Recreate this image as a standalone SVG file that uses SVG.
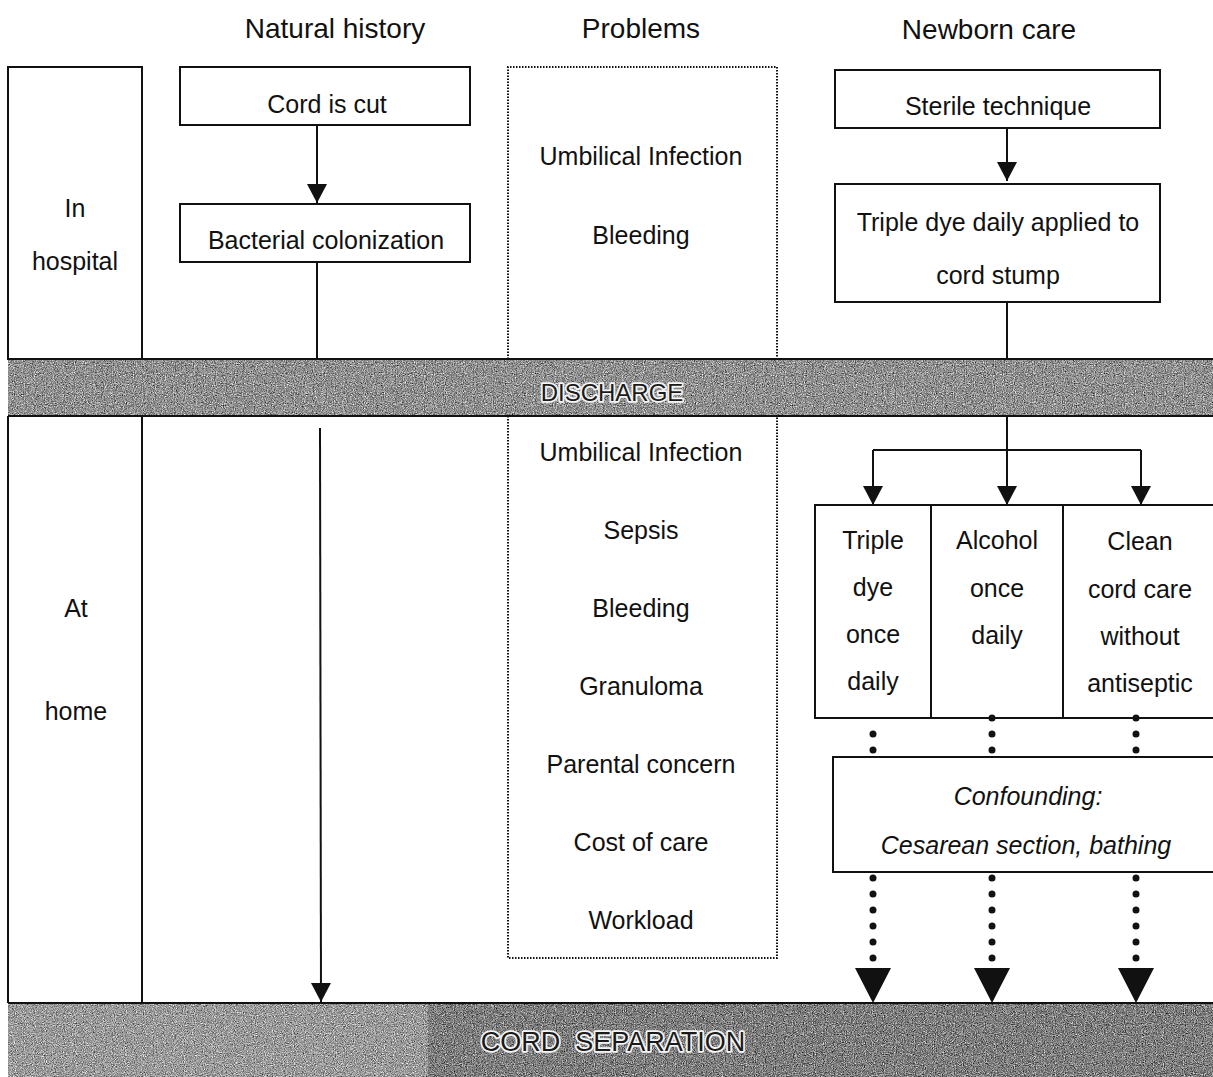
<svg xmlns="http://www.w3.org/2000/svg" width="1213" height="1077" viewBox="0 0 1213 1077">
<defs>
<style>
text{font-family:"Liberation Sans",Arial,sans-serif;fill:#111;text-anchor:middle}
.h{font-size:28px}
.t{font-size:25px}
.i{font-style:italic}
.box{fill:#fff;stroke:#111;stroke-width:2}
.ln{fill:none;stroke:#111;stroke-width:2}
.dot{fill:none;stroke:#111;stroke-width:2;stroke-dasharray:1.5 1.5}
.dots{fill:none;stroke:#111;stroke-width:7;stroke-linecap:round;stroke-dasharray:0 16}
.bt{fill:#1a1a1a;stroke:#f4f4f4;stroke-width:3.5;paint-order:stroke;stroke-linejoin:round;white-space:pre}
</style>
<marker id="ah" viewBox="0 0 19 20" refX="19" refY="10" markerWidth="19" markerHeight="20" markerUnits="userSpaceOnUse" orient="auto">
<path d="M0,0 L19,10 L0,20 z" fill="#111"/>
</marker>
<filter id="noiseA" x="0" y="0" width="100%" height="100%" color-interpolation-filters="sRGB">
<feTurbulence type="fractalNoise" baseFrequency="0.9" numOctaves="2" seed="3"/>
<feColorMatrix type="matrix" values="0.6 0.6 0.6 0 -0.34  0.6 0.6 0.6 0 -0.34  0.6 0.6 0.6 0 -0.34  0 0 0 0 1"/>
<feComposite in2="SourceAlpha" operator="in"/>
</filter>
<filter id="noiseB" x="0" y="0" width="100%" height="100%" color-interpolation-filters="sRGB">
<feTurbulence type="fractalNoise" baseFrequency="0.9" numOctaves="2" seed="7"/>
<feColorMatrix type="matrix" values="0.6 0.6 0.6 0 -0.3  0.6 0.6 0.6 0 -0.3  0.6 0.6 0.6 0 -0.3  0 0 0 0 1"/>
<feComposite in2="SourceAlpha" operator="in"/>
</filter>
<filter id="noiseC" x="0" y="0" width="100%" height="100%" color-interpolation-filters="sRGB">
<feTurbulence type="fractalNoise" baseFrequency="0.9" numOctaves="2" seed="11"/>
<feColorMatrix type="matrix" values="0.6 0.6 0.6 0 -0.41  0.6 0.6 0.6 0 -0.41  0.6 0.6 0.6 0 -0.41  0 0 0 0 1"/>
<feComposite in2="SourceAlpha" operator="in"/>
</filter>
</defs>

<g id="headers">
<text class="h" x="335" y="38">Natural history</text>
<text class="h" x="641" y="38">Problems</text>
<text class="h" x="989" y="39">Newborn care</text>
</g>

<g id="bands">
<g id="discharge">
<rect x="8" y="359" width="1210" height="57" fill="#8e8e8e" filter="url(#noiseA)"/>
<line class="ln" x1="8" y1="359" x2="1213" y2="359"/>
<line class="ln" x1="8" y1="416" x2="1213" y2="416"/>
<text class="bt" x="612" y="401" style="font-size:24px">DISCHARGE</text>
</g>
<g id="cord-separation">
<rect x="8" y="1003" width="420" height="74" fill="#9a9a9a" filter="url(#noiseB)"/>
<rect x="428" y="1003" width="790" height="74" fill="#7c7c7c" filter="url(#noiseC)"/>
<line class="ln" x1="8" y1="1003" x2="1213" y2="1003"/>
<text class="bt" x="613" y="1051" style="font-size:27px">CORD  SEPARATION</text>
</g>
</g>

<g id="setting-hospital">
<rect class="box" x="8" y="67" width="134" height="292"/>
<text class="t" x="75" y="217">In</text>
<text class="t" x="75" y="270">hospital</text>
</g>
<g id="setting-home">
<path class="ln" d="M8,416 V1003 M142,416 V1003"/>
<text class="t" x="76" y="617">At</text>
<text class="t" x="76" y="720">home</text>
</g>

<g id="cord-cut">
<rect class="box" x="180" y="67" width="290" height="58"/>
<text class="t" x="327" y="113">Cord is cut</text>
</g>
<g id="bacterial">
<rect class="box" x="180" y="204" width="290" height="58"/>
<text class="t" x="326" y="249">Bacterial colonization</text>
</g>

<g id="problems-hospital">
<path class="dot" d="M508,359 V67 H777 V359"/>
<text class="t" x="641" y="165">Umbilical Infection</text>
<text class="t" x="641" y="244">Bleeding</text>
</g>
<g id="problems-home">
<path class="dot" d="M508,416 V958 H777 V416"/>
<text class="t" x="641" y="461">Umbilical Infection</text>
<text class="t" x="641" y="539">Sepsis</text>
<text class="t" x="641" y="617">Bleeding</text>
<text class="t" x="641" y="695">Granuloma</text>
<text class="t" x="641" y="773">Parental concern</text>
<text class="t" x="641" y="851">Cost of care</text>
<text class="t" x="641" y="929">Workload</text>
</g>

<g id="sterile">
<rect class="box" x="835" y="70" width="325" height="58"/>
<text class="t" x="998" y="115">Sterile technique</text>
</g>
<g id="triple-dye-hospital">
<rect class="box" x="835" y="184" width="325" height="118"/>
<text class="t" x="998" y="231">Triple dye daily applied to</text>
<text class="t" x="998" y="284">cord stump</text>
</g>

<g id="opt-triple">
<rect class="box" x="815" y="505" width="116" height="213"/>
<text class="t" x="873" y="549">Triple</text>
<text class="t" x="873" y="596">dye</text>
<text class="t" x="873" y="643">once</text>
<text class="t" x="873" y="690">daily</text>
</g>
<g id="opt-alcohol">
<rect class="box" x="931" y="505" width="132" height="213"/>
<text class="t" x="997" y="549">Alcohol</text>
<text class="t" x="997" y="597">once</text>
<text class="t" x="997" y="644">daily</text>
</g>
<g id="opt-clean">
<rect class="box" x="1063" y="505" width="160" height="213"/>
<text class="t" x="1140" y="550">Clean</text>
<text class="t" x="1140" y="598">cord care</text>
<text class="t" x="1140" y="645">without</text>
<text class="t" x="1140" y="692">antiseptic</text>
</g>

<g id="confounding">
<rect class="box" x="833" y="757" width="390" height="115"/>
<text class="t i" x="1028" y="805">Confounding:</text>
<text class="t i" x="1026" y="854">Cesarean section, bathing</text>
</g>

<g id="connectors">
<line class="ln" x1="317" y1="125" x2="317" y2="203" marker-end="url(#ah)"/>
<line class="ln" x1="317" y1="262" x2="317" y2="359"/>
<line class="ln" x1="320" y1="428" x2="321" y2="1002" marker-end="url(#ah)"/>
<line class="ln" x1="1007" y1="128" x2="1007" y2="181" marker-end="url(#ah)"/>
<line class="ln" x1="1007" y1="302" x2="1007" y2="359"/>
<line class="ln" x1="1007" y1="416" x2="1007" y2="505" marker-end="url(#ah)"/>
<path class="ln" d="M873,450 H1141"/>
<line class="ln" x1="873" y1="450" x2="873" y2="505" marker-end="url(#ah)"/>
<line class="ln" x1="1141" y1="450" x2="1141" y2="505" marker-end="url(#ah)"/>
<path class="dots" d="M873,734 V758 M992,718 V758 M1136,718 V758"/>
<path class="dots" d="M873,878 V960 M992,878 V960 M1136,878 V960"/>
<path d="M855,968 L891,968 L873,1003 z M974,968 L1010,968 L992,1003 z M1118,968 L1154,968 L1136,1003 z" fill="#111"/>
</g>
</svg>
